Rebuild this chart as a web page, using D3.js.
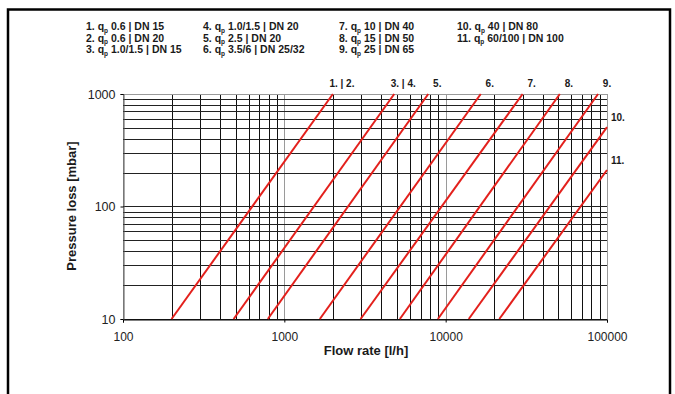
<!DOCTYPE html>
<html>
<head>
<meta charset="utf-8">
<script src="https://cdn.jsdelivr.net/npm/d3@7"></script>
<style>
  body { margin: 0; background: #fff; }
  text { font-family: 'Liberation Sans', Arial, sans-serif; }
</style>
</head>
<body>
<svg></svg>
<script>
// legend entries
let legendNum = ['1.', '2.', '3.', '4.', '5.', '6.', '7.', '8.', '9.', '10.', '11.']
let legendQp = ['0.6', '0.6', '1.0/1.5', '1.0/1.5', '2.5', '3.5/6', '10', '15', '25', '40', '60/100']
let legendDN = ['15', '20', '15', '20', '20', '25/32', '40', '50', '65', '80', '100']

// red curves: flow at 10 mbar, flow + pressure where the curve leaves the chart
let curveLabel = ['1. | 2.', '3. | 4.', '5.', '6.', '7.', '8.', '9.', '10.', '11.']
let flowStart = [200, 485, 790, 1660, 2970, 5200, 8950, 13900, 21500]
let pressureStart = [10, 10, 10, 10, 10, 10, 10, 10, 10]
let flowEnd = [2000, 4800, 7800, 16500, 30000, 51000, 88000, 100000, 100000]
let pressureEnd = [1000, 1000, 1000, 1000, 1000, 1000, 1000, 507, 211]

let xTicks = [100, 1000, 10000, 100000]
let yTicks = [10, 100, 1000]

let width = 675
let height = 394
let plotLeft = 123
let plotRight = 607
let plotTop = 94
let plotBottom = 319

let svg = d3.select('svg')
svg.attr('width', width).attr('height', height)

let xScale = d3.scaleLog().domain([100, 100000]).range([plotLeft, plotRight])
let yScale = d3.scaleLog().domain([10, 1000]).range([plotBottom, plotTop])

// outer frame
svg.append('rect')
    .attr('x', 8).attr('y', 9.5)
    .attr('width', 662).attr('height', 400)
    .attr('fill', 'none')
    .attr('stroke', '#000')
    .attr('stroke-width', 2.5)

// legend
let legend = svg.append('g')
let colX = [86, 203, 339, 457]
let rowY = [30, 41.5, 53]
legendNum.forEach((n, i) => {
    let t = legend.append('text')
        .attr('x', colX[Math.floor(i / 3)])
        .attr('y', rowY[i % 3])
        .attr('font-size', 10.5)
        .attr('font-weight', 'bold')
        .attr('fill', '#1a1a1a')
    t.append('tspan').text(n + ' q')
    t.append('tspan').attr('font-size', 6.5).attr('dy', 2.5).text('p')
    t.append('tspan').attr('dy', -2.5).text(' ' + legendQp[i] + ' | DN ' + legendDN[i])
})

// grid lines
let xGrid = xScale.ticks()
let yGrid = yScale.ticks()

svg.append('g')
    .selectAll('line')
    .data(xGrid)
    .enter()
    .append('line')
    .attr('x1', (d) => Math.round(xScale(d)) + 0.5)
    .attr('x2', (d) => Math.round(xScale(d)) + 0.5)
    .attr('y1', plotTop)
    .attr('y2', plotBottom)
    .attr('stroke', (d) => xTicks.includes(d) ? '#9a9a9a' : '#111')
    .attr('stroke-width', 1)

svg.append('g')
    .selectAll('line')
    .data(yGrid)
    .enter()
    .append('line')
    .attr('x1', plotLeft)
    .attr('x2', plotRight)
    .attr('y1', (d) => Math.round(yScale(d)) + 0.5)
    .attr('y2', (d) => Math.round(yScale(d)) + 0.5)
    .attr('stroke', (d) => d == 1000 ? '#9a9a9a' : '#222')
    .attr('stroke-width', 1)

// axes
let xAxis = d3.axisBottom(xScale).tickValues(xTicks).tickFormat(d3.format('d')).tickSize(3)
let yAxis = d3.axisLeft(yScale).tickValues(yTicks).tickFormat(d3.format('d')).tickSize(3)

let gx = svg.append('g')
    .attr('transform', 'translate(0, ' + (plotBottom + 0.5) + ')')
    .call(xAxis)
gx.select('.domain').attr('stroke', '#000')
gx.selectAll('text')
    .attr('font-size', 12)
    .attr('fill', '#222')
    .attr('dy', '1.3em')
    .style('font-family', "'Liberation Sans', Arial, sans-serif")

let gy = svg.append('g')
    .attr('transform', 'translate(' + (plotLeft + 0.5) + ', 0)')
    .call(yAxis)
gy.select('.domain').attr('stroke', '#555')
gy.selectAll('text')
    .attr('font-size', 12.5)
    .attr('fill', '#222')
    .attr('x', -8)
    .style('font-family', "'Liberation Sans', Arial, sans-serif")

// red curves
let curves = curveLabel.map((c, i) => [[flowStart[i], pressureStart[i]], [flowEnd[i], pressureEnd[i]]])
let line = d3.line()
    .x((d) => xScale(d[0]))
    .y((d) => yScale(d[1]))

svg.append('g')
    .selectAll('path')
    .data(curves)
    .enter()
    .append('path')
    .attr('d', line)
    .attr('fill', 'none')
    .attr('stroke', '#e3201c')
    .attr('stroke-width', 2)

// curve labels
svg.append('g')
    .selectAll('text')
    .data(curveLabel)
    .enter()
    .append('text')
    .attr('x', (d, i) => pressureEnd[i] == 1000 ? xScale(flowEnd[i]) + 9 : plotRight + 4)
    .attr('y', (d, i) => pressureEnd[i] == 1000 ? plotTop - 7 : yScale(pressureEnd[i]) - 6)
    .attr('text-anchor', (d, i) => pressureEnd[i] == 1000 ? 'middle' : 'start')
    .attr('font-size', 10)
    .attr('font-weight', 'bold')
    .attr('fill', '#1a1a1a')
    .text((d) => d)

// axis titles
svg.append('text')
    .attr('x', 366)
    .attr('y', 355)
    .attr('text-anchor', 'middle')
    .attr('font-size', 13)
    .attr('font-weight', 'bold')
    .attr('fill', '#1a1a1a')
    .text('Flow rate [l/h]')

svg.append('text')
    .attr('transform', 'translate(76, 206) rotate(-90)')
    .attr('text-anchor', 'middle')
    .attr('font-size', 13)
    .attr('font-weight', 'bold')
    .attr('fill', '#1a1a1a')
    .text('Pressure loss [mbar]')
</script>
</body>
</html>
